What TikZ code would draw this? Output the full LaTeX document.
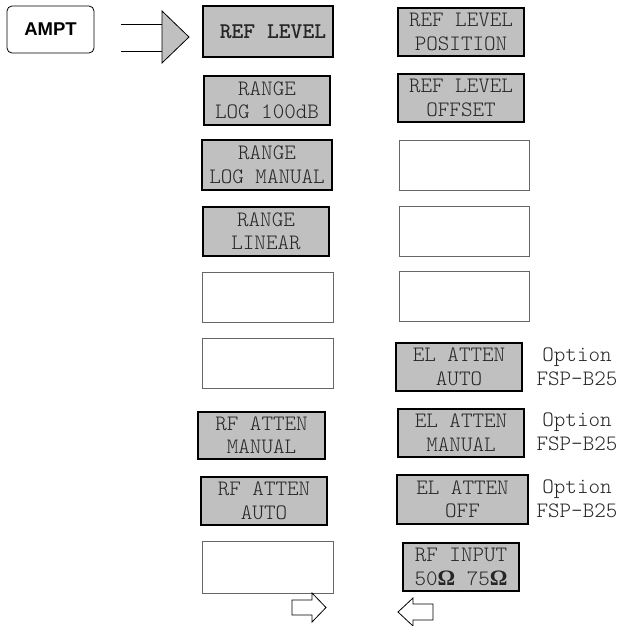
\documentclass[tikz,border=0pt]{standalone}
\usepackage{fontspec}
\newfontfamily\arialf{Liberation Sans}
\newfontfamily\timesf{Liberation Serif}
\newcommand{\cour}{\ttfamily\fontseries{l}\selectfont}
\newcommand{\courb}{\ttfamily\bfseries}
\definecolor{keygray}{RGB}{192,192,192}
\begin{document}
\begin{tikzpicture}[x=1pt,y=-1pt,
  key/.style={draw=black,line width=1.1pt,fill=keygray,inner sep=0pt,align=center,
    font=\cour\fontsize{22}{23.5}\selectfont,text=black!85},
  blank/.style={draw=black!60,line width=0.7pt,fill=white,inner sep=0pt},
  opt/.style={inner sep=0pt,align=center,font=\cour\fontsize{22}{23.5}\selectfont,text=black!85},
  hk/.style={draw=black,line width=0.8pt,rounded corners=5pt,inner sep=0pt,
    font=\arialf\bfseries\fontsize{18.5}{22}\selectfont},
  arr/.style={draw=black,line width=0.8pt,fill=white,line join=miter}]
\useasboundingbox (0,0) rectangle (620,626);
% hardkey
\node[hk,minimum width=87pt,minimum height=47pt] (ampt) at (50.5,29.5) {AMPT};
% big arrow
\coordinate (a1) at (121,24);
\coordinate (a2) at (121,51);
\coordinate (t1) at (162,24);
\coordinate (t2) at (162,51);
\draw[line width=0.8pt] (a1) -- (t1) (a2) -- (t2);
\draw[line width=0.8pt,fill=keygray] (162,11) -- (189,37) -- (162,63) -- cycle;
% left column
\node[key,minimum width=130pt,minimum height=51pt,font=\courb\fontsize{22.5}{23.5}\selectfont] (l1) at (268,31.5) {\hspace*{10pt}REF LEVEL};
\node[key,minimum width=126pt,minimum height=49pt] (l2) at (267,100.5) {RANGE\\LOG 100dB};
\node[key,minimum width=130pt,minimum height=50pt] (l3) at (267,165) {RANGE\\LOG MANUAL};
\node[key,minimum width=126pt,minimum height=49pt] (l4) at (266,231.5) {RANGE\\LINEAR};
\node[blank,minimum width=131pt,minimum height=50pt] (l5) at (267.5,297) {};
\node[blank,minimum width=131pt,minimum height=50pt] (l6) at (267.5,363) {};
\node[key,minimum width=127pt,minimum height=47pt] (l7) at (261.5,435.5) {RF ATTEN\\MANUAL};
\node[key,minimum width=126pt,minimum height=48pt] (l8) at (264,501) {RF ATTEN\\AUTO};
\node[blank,minimum width=131pt,minimum height=52pt] (l9) at (267.5,567) {};
% right column
\node[key,minimum width=126pt,minimum height=48pt] (r1) at (461,32) {REF LEVEL\\POSITION};
\node[key,minimum width=126pt,minimum height=48pt] (r2) at (461,98) {REF LEVEL\\OFFSET};
\node[blank,minimum width=130pt,minimum height=50pt] (r3) at (464,165) {};
\node[blank,minimum width=130pt,minimum height=50pt] (r4) at (464,231) {};
\node[blank,minimum width=130pt,minimum height=50pt] (r5) at (464,296.5) {};
\node[key,minimum width=126pt,minimum height=48pt] (r6) at (459,367) {EL ATTEN\\AUTO};
\node[key,minimum width=126pt,minimum height=48pt] (r7) at (461,433) {EL ATTEN\\MANUAL};
\node[key,minimum width=131pt,minimum height=49pt] (r8) at (462.5,499.5) {EL ATTEN\\OFF};
\node[key,minimum width=116pt,minimum height=48pt] (r9) at (461,567) {RF INPUT\\50{\timesf\bfseries Ω} 75{\timesf\bfseries Ω}};
% option labels
\node[opt] (o1) at (577,367) {Option\\FSP-B25};
\node[opt] (o2) at (577,432) {Option\\FSP-B25};
\node[opt] (o3) at (577,499) {Option\\FSP-B25};
% small arrows
\draw[arr] (292,600) -- (312,600) -- (312,593) -- (326,607.5) -- (312,622) -- (312,615) -- (292,615) -- cycle;
\draw[arr] (433,604) -- (413,604) -- (413,598) -- (398,612) -- (413,626) -- (413,620) -- (433,620) -- cycle;
\end{tikzpicture}
\end{document}
